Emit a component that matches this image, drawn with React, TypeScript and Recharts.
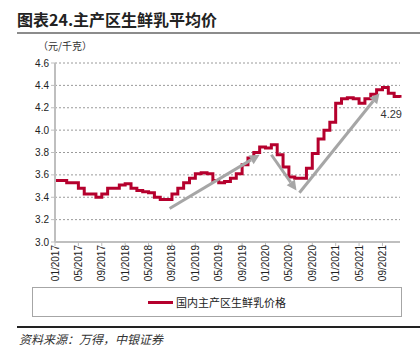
import { CartesianGrid, LabelList, Line, LineChart, ReferenceLine, XAxis, YAxis } from "recharts";

const months = [
  "01/2017", "02/2017", "03/2017", "04/2017", "05/2017", "06/2017", "07/2017", "08/2017", "09/2017", "10/2017", "11/2017", "12/2017",
  "01/2018", "02/2018", "03/2018", "04/2018", "05/2018", "06/2018", "07/2018", "08/2018", "09/2018", "10/2018", "11/2018", "12/2018",
  "01/2019", "02/2019", "03/2019", "04/2019", "05/2019", "06/2019", "07/2019", "08/2019", "09/2019", "10/2019", "11/2019", "12/2019",
  "01/2020", "02/2020", "03/2020", "04/2020", "05/2020", "06/2020", "07/2020", "08/2020", "09/2020", "10/2020", "11/2020", "12/2020",
  "01/2021", "02/2021", "03/2021", "04/2021", "05/2021", "06/2021", "07/2021", "08/2021", "09/2021", "10/2021", "11/2021", "12/2021",
];

// 国内主产区生鲜乳价格 (元/千克)
const prices = [
  3.55, 3.55, 3.53, 3.53, 3.48, 3.43, 3.43, 3.4, 3.43, 3.48, 3.48, 3.51,
  3.52, 3.48, 3.46, 3.45, 3.44, 3.4, 3.38, 3.38, 3.43, 3.48, 3.53, 3.57,
  3.61, 3.62, 3.61, 3.55, 3.53, 3.54, 3.57, 3.61, 3.69, 3.75, 3.8, 3.85,
  3.84, 3.87, 3.78, 3.67, 3.58, 3.57, 3.57, 3.66, 3.79, 3.92, 4.0, 4.07,
  4.24, 4.28, 4.29, 4.28, 4.24, 4.28, 4.32, 4.36, 4.38, 4.33, 4.3, 4.29,
];

const yTicks = [3.0, 3.2, 3.4, 3.6, 3.8, 4.0, 4.2, 4.4, 4.6];
const xTicks = [0, 4, 8, 12, 16, 20, 24, 28, 32, 36, 40, 44, 48, 52, 56];

// trend arrows: start month index, start value, end month index, end value
const arrows = [
  [19.6, 3.3, 35.0, 3.78],
  [37.0, 3.78, 41.3, 3.46],
  [41.8, 3.44, 55.5, 4.33],
];

const data = months.map((month, i) => ({ i, month, price: prices[i] }));

const RED = "#b5002d";
const AXIS = "#bfbfbf";

const ArrowShape = (p: any) => {
  const { x1, y1, x2, y2 } = p;
  const len = Math.hypot(x2 - x1, y2 - y1);
  const ux = (x2 - x1) / len;
  const uy = (y2 - y1) / len;
  const bx = x2 - ux * 10;
  const by = y2 - uy * 10;
  return (
    <g>
      <line x1={x1} y1={y1} x2={bx} y2={by} stroke="#a6a6a6" strokeWidth={3} />
      <polygon
        points={`${x2},${y2} ${bx - uy * 5},${by + ux * 5} ${bx + uy * 5},${by - ux * 5}`}
        fill="#a6a6a6"
      />
    </g>
  );
};

const MonthTick = ({ x, y, payload }: any) => (
  <text
    transform={`translate(${x},${y - 3}) rotate(-90)`}
    textAnchor="end"
    dominantBaseline="central"
    fontSize={10}
    fill="#222"
    fontFamily="'Liberation Sans', Arial, sans-serif"
  >
    {months[payload.value]}
  </text>
);

const LastLabel = (p: any) =>
  p.index === prices.length - 1 ? (
    <text x={p.x + 2} y={p.y + 20} textAnchor="end" fontSize={11} fill="#333" fontFamily="'Liberation Sans', Arial, sans-serif">
      {Number(p.value).toFixed(2)}
    </text>
  ) : null;

const cjk = "'Noto Sans CJK SC', sans-serif";

export default function App() {
  return (
    <div style={{ position: "absolute", left: 0, top: 0, width: 420, height: 361, background: "#fff", fontFamily: cjk }}>
      <div style={{ position: "absolute", left: 17, top: 7, fontSize: 16, fontWeight: 700, color: "#222", lineHeight: "24px" }}>
        图表24.主产区生鲜乳平均价
      </div>
      <div style={{ position: "absolute", left: 17, right: 0, top: 32, height: 2, background: "#8c8c8c" }} />
      <div style={{ position: "absolute", left: 38, top: 38, fontSize: 10, color: "#333", lineHeight: "16px" }}>
        （元/千克）
      </div>

      <div style={{ position: "absolute", left: 0, top: 0 }}>
        <LineChart width={420} height={361} data={data} margin={{ top: 63, right: 20, bottom: 79, left: 0 }}>
          <CartesianGrid vertical={false} stroke="#9a9a9a" strokeDasharray="2 2" />
          <XAxis
            dataKey="i"
            type="number"
            domain={[0, 59]}
            ticks={xTicks}
            interval={0}
            height={40}
            tick={<MonthTick />}
            tickSize={4}
            axisLine={{ stroke: AXIS, strokeWidth: 2 }}
            tickLine={{ stroke: AXIS }}
          />
          <YAxis
            width={55}
            domain={[3.0, 4.6]}
            ticks={yTicks}
            interval={0}
            tickFormatter={(v) => Number(v).toFixed(1)}
            tick={{ fontSize: 10, fill: "#222", fontFamily: "'Liberation Sans', Arial, sans-serif" }}
            tickSize={4}
            axisLine={{ stroke: AXIS, strokeWidth: 2 }}
            tickLine={{ stroke: AXIS }}
          />
          <Line
            dataKey="price"
            type="stepAfter"
            stroke={RED}
            strokeWidth={3}
            dot={false}
            isAnimationActive={false}
          >
            <LabelList dataKey="price" content={<LastLabel />} />
          </Line>
          {arrows.map((a, k) => (
            <ReferenceLine
              key={k}
              segment={[{ x: a[0], y: a[1] }, { x: a[2], y: a[3] }]}
              shape={ArrowShape}
              ifOverflow="visible"
            />
          ))}
        </LineChart>
      </div>

      <div
        style={{
          position: "absolute",
          left: 32,
          top: 287,
          width: 370,
          height: 30,
          border: "1px solid #a6a6a6",
          boxSizing: "border-box",
          display: "flex",
          alignItems: "center",
          justifyContent: "center",
          fontSize: 11,
          color: "#222",
        }}
      >
        <span style={{ display: "inline-block", width: 25, height: 3, background: RED, marginRight: 3 }} />
        国内主产区生鲜乳价格
      </div>

      <div style={{ position: "absolute", left: 17, right: 0, top: 326, height: 2, background: "#222" }} />
      <div style={{ position: "absolute", left: 19, top: 330, fontSize: 12, fontStyle: "italic", color: "#333", lineHeight: "18px" }}>
        资料来源：万得，中银证券
      </div>
    </div>
  );
}
